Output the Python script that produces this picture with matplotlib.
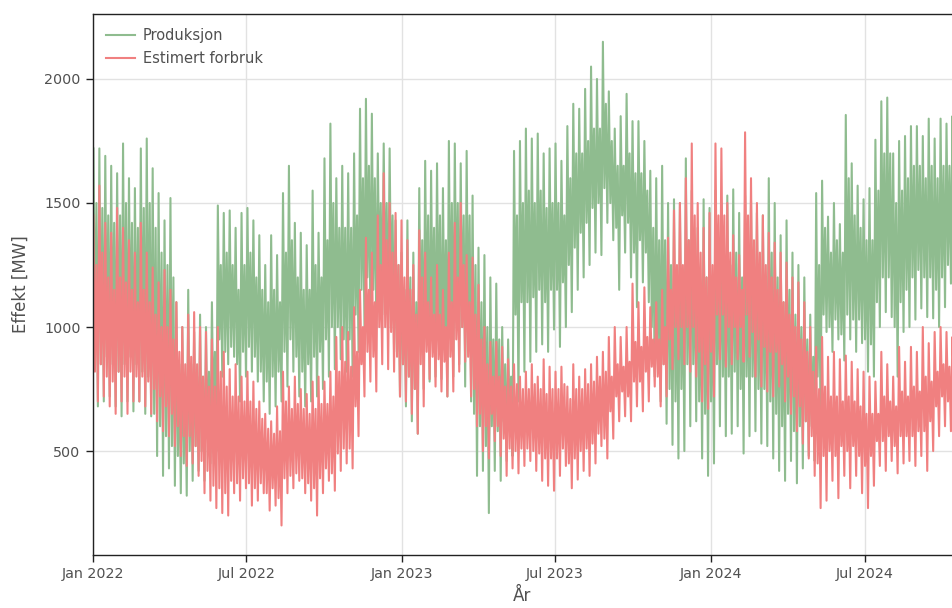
import numpy as np
import pandas as pd
import matplotlib
matplotlib.use("Agg")
import matplotlib.pyplot as plt
import matplotlib.dates as mdates

# weekly readings (MW), first week starting 2022-01-01
# *_hi / *_lo : weekly spikes, *_hi2 / *_lo2 : edges of the dense body
prod_hi = [1720, 1720, 1690, 1650, 1620, 1740, 1600, 1560, 1720, 1760,
           1640, 1540, 1430, 1520, 1100, 1000, 1150, 980, 1050, 1000,
           1100, 1490, 1460, 1470, 1400, 1460, 1480, 1430, 1370, 1250,
           1370, 1290, 1540, 1650, 1420, 1380, 1330, 1550, 1380, 1680,
           1820, 1600, 1650, 1620, 1700, 1880, 1920, 1860, 1700, 1740,
           1720, 1430, 1300, 1430, 1300, 1560, 1670, 1630, 1660, 1560,
           1750, 1740, 1660, 1710, 1530, 1320, 1290, 1200, 1175, 1000,
           950, 1710, 1750, 1800, 1760, 1780, 1700, 1720, 1740, 1670,
           1810, 1900, 1880, 1960, 2050, 2000, 2150, 1950, 1800, 1850,
           1940, 1830, 1830, 1750, 1630, 1600, 1650, 1500, 1515, 1500,
           1680, 1550, 1400, 1515, 1480, 1550, 1500, 1530, 1555, 1460,
           1530, 1510, 1460, 1450, 1600, 1500, 1370, 1430, 1300, 1250,
           1200, 1050, 1540, 1590, 1445, 1500, 1415, 1855, 1660, 1570,
           1515, 1560, 1755, 1910, 1925, 1700, 1750, 1770, 1810, 1810,
           1770, 1840, 1760, 1840, 1820, 1850]
prod_hi2 = [1500, 1480, 1450, 1420, 1450, 1500, 1420, 1400, 1480, 1500,
            1400, 1300, 1250, 1200, 850, 800, 850, 800, 800, 820,
            900, 1250, 1300, 1250, 1150, 1250, 1300, 1200, 1150, 1100,
            1150, 1100, 1300, 1350, 1200, 1150, 1150, 1250, 1200, 1350,
            1500, 1400, 1400, 1400, 1450, 1600, 1650, 1600, 1500, 1500,
            1450, 1250, 1150, 1200, 1100, 1350, 1450, 1400, 1450, 1350,
            1500, 1500, 1450, 1450, 1250, 1100, 1000, 950, 950, 850,
            800, 1450, 1500, 1550, 1500, 1550, 1480, 1500, 1500, 1450,
            1600, 1700, 1700, 1750, 1800, 1800, 1900, 1750, 1650, 1650,
            1700, 1620, 1620, 1550, 1400, 1350, 1350, 1250, 1200, 1200,
            1350, 1300, 1150, 1200, 1200, 1300, 1250, 1250, 1300, 1200,
            1250, 1250, 1200, 1200, 1300, 1200, 1100, 1150, 1050, 1000,
            950, 880, 1250, 1400, 1300, 1350, 1300, 1600, 1450, 1400,
            1350, 1350, 1550, 1700, 1700, 1500, 1550, 1600, 1650, 1650,
            1600, 1650, 1600, 1650, 1650, 1650]
prod_lo2 = [900, 850, 880, 850, 820, 850, 880, 850, 820, 800,
            650, 600, 560, 520, 480, 450, 500, 520, 500, 550,
            620, 950, 900, 920, 850, 900, 920, 880, 820, 780,
            800, 820, 900, 950, 880, 820, 850, 880, 900, 950,
            1000, 1000, 950, 950, 1050, 1150, 1200, 1150, 1200, 1150,
            1100, 900, 850, 800, 750, 950, 1000, 1000, 980, 950,
            1000, 1050, 1000, 950, 650, 600, 520, 600, 580, 620,
            640, 1050, 1100, 1100, 1120, 1150, 1100, 1150, 1150, 1180,
            1250, 1320, 1380, 1420, 1480, 1500, 1560, 1500, 1400, 1450,
            1420, 1300, 1350, 1300, 1000, 900, 850, 750, 700, 750,
            850, 850, 700, 650, 700, 850, 800, 800, 820, 750,
            800, 800, 750, 750, 700, 650, 600, 650, 580, 600,
            620, 600, 800, 1050, 1000, 1030, 970, 1050, 1030, 1030,
            950, 930, 1100, 1200, 1200, 1000, 1100, 1150, 1200, 1230,
            1200, 1200, 1150, 1200, 1250, 1300]
prod_lo = [680, 700, 720, 680, 640, 700, 660, 700, 650, 640,
           480, 400, 430, 360, 330, 320, 380, 420, 380, 450,
           500, 800, 850, 880, 700, 800, 820, 780, 700, 650,
           680, 700, 760, 820, 720, 680, 700, 720, 750, 800,
           830, 870, 820, 800, 900, 1000, 1050, 1000, 1050, 1000,
           900, 720, 680, 620, 570, 750, 780, 800, 790, 720,
           800, 850, 760, 700, 400, 420, 250, 420, 380, 460,
           480, 700, 820, 860, 900, 930, 900, 990, 920, 1000,
           1060, 1150, 1200, 1250, 1300, 1290, 1420, 1350, 1150, 1300,
           1200, 1080, 1180, 1100, 800, 700, 610, 525, 470, 500,
           600, 620, 470, 400, 450, 600, 560, 570, 600, 490,
           560, 580, 530, 520, 470, 420, 380, 460, 370, 430,
           480, 460, 600, 980, 900, 950, 865, 950, 900, 935,
           820, 800, 1000, 1060, 1040, 800, 980, 1000, 1030, 1075,
           1040, 1035, 1000, 1080, 1175, 1245]

load_hi = [1450, 1570, 1420, 1380, 1480, 1400, 1350, 1300, 1420, 1300,
           1240, 1180, 1230, 1150, 1100, 1000, 1050, 1060, 1000, 980,
           950, 1000, 900, 830, 850, 800, 820, 780, 700, 650,
           620, 680, 820, 760, 800, 750, 730, 780, 800, 780,
           820, 960, 1000, 980, 1080, 1150, 1360, 1300, 1450, 1620,
           1500, 1460, 1430, 1350, 1250, 1390, 1300, 1200, 1250, 1150,
           1300, 1420, 1500, 1290, 1280, 1170, 1000, 940, 940, 920,
           870, 850, 800, 820, 850, 800, 870, 840, 820, 840,
           760, 850, 800, 830, 850, 880, 900, 960, 1000, 960,
           1000, 1175, 1100, 1160, 1080, 1100, 1150, 1360, 1470, 1500,
           1600, 1740, 1500, 1400, 1460, 1740, 1720, 1500, 1370, 1290,
           1785, 1600, 1500, 1450, 1380, 1340, 1300, 1260, 1200, 1180,
           1100, 1000, 920, 960, 880, 900, 870, 885, 860, 830,
           820, 800, 780, 900, 850, 800, 920, 860, 920, 900,
           1000, 935, 980, 1000, 980, 960]
load_hi2 = [1250, 1300, 1200, 1150, 1200, 1180, 1150, 1100, 1150, 1100,
            1050, 1000, 1000, 950, 900, 850, 880, 850, 800, 760,
            760, 820, 760, 720, 720, 700, 700, 670, 630, 590,
            570, 580, 700, 670, 690, 670, 650, 670, 690, 690,
            720, 820, 860, 840, 900, 1000, 1150, 1100, 1250, 1350,
            1300, 1250, 1200, 1150, 1050, 1200, 1100, 1050, 1050, 1000,
            1100, 1200, 1250, 1100, 1050, 950, 850, 800, 800, 760,
            760, 770, 750, 750, 770, 750, 730, 750, 750, 770,
            710, 750, 750, 770, 780, 800, 820, 800, 850, 840,
            860, 940, 920, 960, 950, 950, 1000, 1150, 1250, 1250,
            1350, 1450, 1300, 1200, 1250, 1450, 1450, 1300, 1200, 1150,
            1450, 1350, 1300, 1250, 1200, 1150, 1100, 1050, 1000, 950,
            900, 820, 750, 760, 720, 720, 700, 720, 700, 680,
            650, 650, 650, 720, 700, 680, 740, 720, 760, 740,
            800, 780, 820, 850, 840, 850]
load_lo2 = [820, 850, 800, 780, 820, 800, 820, 800, 800, 780,
            750, 720, 680, 650, 600, 560, 560, 520, 460, 420,
            360, 350, 330, 380, 370, 390, 370, 350, 370, 330,
            350, 310, 390, 400, 410, 390, 370, 350, 390, 430,
            410, 490, 510, 510, 680, 850, 900, 880, 1000, 1000,
            980, 880, 850, 800, 750, 850, 900, 880, 870, 860,
            880, 950, 1000, 880, 750, 650, 600, 650, 600, 550,
            510, 500, 510, 510, 500, 490, 470, 470, 470, 510,
            450, 470, 500, 510, 530, 570, 550, 660, 720, 740,
            720, 780, 780, 820, 840, 800, 850, 950, 1000, 1000,
            1000, 1000, 900, 850, 900, 1050, 1050, 1000, 1000, 1000,
            1050, 980, 950, 920, 900, 900, 850, 800, 720, 680,
            620, 560, 450, 480, 500, 480, 520, 500, 520, 480,
            440, 480, 540, 540, 560, 520, 560, 560, 560, 580,
            580, 620, 680, 720, 700, 760]
load_lo = [700, 720, 680, 650, 700, 650, 700, 700, 680, 650,
           620, 580, 560, 520, 480, 440, 450, 400, 330, 300,
           270, 250, 240, 330, 300, 350, 280, 300, 330, 260,
           280, 200, 330, 350, 380, 330, 300, 240, 330, 380,
           340, 420, 450, 430, 560, 720, 780, 740, 850, 830,
           820, 720, 700, 650, 570, 680, 790, 760, 740, 720,
           740, 820, 860, 720, 600, 500, 470, 540, 480, 400,
           430, 410, 440, 460, 420, 380, 360, 340, 400, 440,
           350, 385, 420, 400, 450, 520, 470, 550, 620, 640,
           620, 680, 660, 700, 760, 680, 720, 830, 870, 850,
           820, 800, 700, 670, 720, 870, 840, 850, 870, 860,
           880, 800, 760, 740, 720, 760, 700, 650, 580, 530,
           470, 400, 270, 300, 380, 310, 400, 350, 400, 330,
           270, 360, 440, 420, 460, 410, 450, 460, 440, 480,
           420, 500, 560, 600, 580, 650]

weeks = pd.date_range("2022-01-01", periods=len(prod_hi), freq="7D")


def zigzag(hi, lo2, hi2, lo):
    t, v = [], []
    for d, a, b, c, e in zip(weeks, hi, lo2, hi2, lo):
        t += [d + pd.Timedelta(hours=h) for h in (12, 54, 96, 138)]
        v += [a, b, c, e]
    return t, v


plt.rcParams["font.family"] = ["DejaVu Sans"]
txt = "#505050"

fig = plt.figure(figsize=(9.52, 6.08), dpi=100)
ax = fig.add_axes([0.0977, 0.0872, 0.9023, 0.8898])

tp, vp = zigzag(prod_hi, prod_lo2, prod_hi2, prod_lo)
tl, vl = zigzag(load_hi, load_lo2, load_hi2, load_lo)
ax.plot(tp, vp, color="#8fbc8f", lw=1.5, label="Produksjon")
ax.plot(tl, vl, color="#f08080", lw=1.5, label="Estimert forbruk")

ax.set_xlim(pd.Timestamp("2022-01-01"), pd.Timestamp("2024-10-12"))
ax.set_ylim(81, 2262)
ax.set_yticks([500, 1000, 1500, 2000])
ax.xaxis.set_major_locator(mdates.MonthLocator(bymonth=[1, 7]))
ax.xaxis.set_major_formatter(mdates.DateFormatter("%b %Y"))

ax.grid(True, color="#e2e2e2", lw=1)
ax.set_axisbelow(True)
for s in ["left", "top", "bottom"]:
    ax.spines[s].set_color("#222222")
    ax.spines[s].set_linewidth(1)
ax.spines["right"].set_visible(False)
ax.tick_params(direction="out", length=5, width=1, color="#222222",
               labelsize=10.3, labelcolor=txt, pad=4)

ax.set_ylabel("Effekt [MW]", fontsize=12, color=txt, labelpad=10)
ax.set_xlabel("År", fontsize=12, color=txt, labelpad=4)

leg = ax.legend(loc="upper left", bbox_to_anchor=(0.0, 0.999), frameon=False,
                fontsize=10.5, handlelength=2.0, handletextpad=0.5,
                labelspacing=0.55, labelcolor=txt)
for h in leg.get_lines():
    h.set_linewidth(1.5)

fig.savefig("out.png", dpi=100)
